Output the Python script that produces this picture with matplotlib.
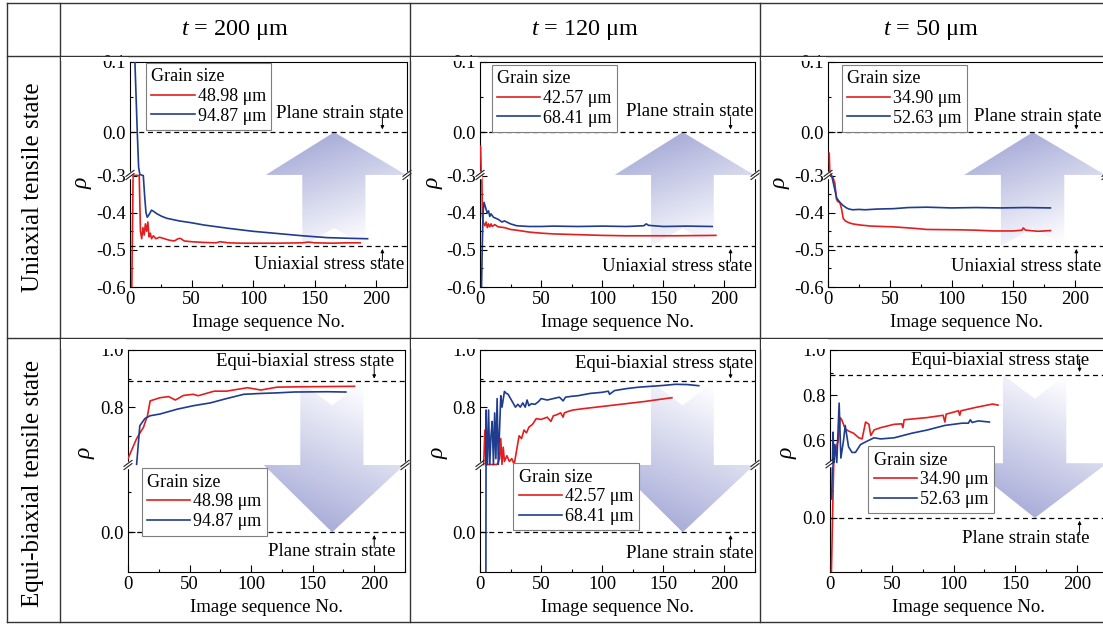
import numpy as np
import matplotlib
matplotlib.use('Agg')
import matplotlib.pyplot as plt
from matplotlib.patches import Polygon, Rectangle
from matplotlib.lines import Line2D

plt.rcParams['font.family'] = ['Liberation Serif', 'DejaVu Serif']
plt.rcParams['mathtext.fontset'] = 'custom'
plt.rcParams['mathtext.it'] = 'Liberation Serif:italic'
plt.rcParams['mathtext.rm'] = 'Liberation Serif'
plt.rcParams['axes.unicode_minus'] = False

# table headers
thickness = ['200', '120', '50']
row_titles = ['Uniaxial tensile state', 'Equi-biaxial tensile state']
fine_labels = ['48.98 μm', '42.57 μm', '34.90 μm']
coarse_labels = ['94.87 μm', '68.41 μm', '52.63 μm']

# ---- uniaxial tension (rho vs image number) ----
u200_fine_x = [1.3, 2, 2.5, 3, 6, 7.5, 8.5, 9.5, 10.5, 11.5, 12.5, 13.5, 14.5, 15.5, 16.5, 17.5, 19, 21, 24, 28,
               32, 36, 39, 41, 44, 50, 60, 70, 73, 80, 90, 100, 120, 140, 145, 150, 165, 175, 187]
u200_fine_y = [-0.65, -0.45, -0.3, -0.25, -0.25, -0.3, -0.45, -0.47, -0.44, -0.46, -0.43, -0.45, -0.425, -0.465,
               -0.455, -0.47, -0.462, -0.47, -0.466, -0.47, -0.474, -0.476, -0.47, -0.469, -0.476, -0.478, -0.48,
               -0.481, -0.478, -0.481, -0.482, -0.482, -0.482, -0.481, -0.479, -0.481, -0.482, -0.481, -0.481]
u200_coarse_x = [3, 4, 5.9, 7, 8, 10.8, 12, 13, 14, 15.5, 17.5, 19, 22, 26, 30, 40, 50, 60, 80, 100, 120, 140,
                 160, 180, 193]
u200_coarse_y = [0.25, 0.1, 0.0, -0.05, -0.1, -0.3, -0.36, -0.4, -0.412, -0.405, -0.393, -0.396, -0.403, -0.41,
                 -0.415, -0.422, -0.427, -0.433, -0.442, -0.45, -0.456, -0.462, -0.467, -0.469, -0.47]

u120_fine_x = [0.5, 1, 1.5, 2, 2.7, 4, 5, 6, 7, 8, 9, 10, 12, 15, 20, 25, 30, 40, 50, 60, 80, 100, 120, 140, 160, 193]
u120_fine_y = [-0.02, -0.1, -0.3, -0.41, -0.427, -0.435, -0.425, -0.44, -0.43, -0.438, -0.43, -0.437, -0.432,
               -0.438, -0.44, -0.445, -0.447, -0.452, -0.455, -0.457, -0.459, -0.461, -0.462, -0.462, -0.462, -0.461]
u120_coarse_x = [1, 1.8, 2.5, 3.3, 4.5, 5.8, 7, 8, 9, 11, 13, 15, 18, 20, 25, 30, 40, 50, 60, 80, 100, 120, 134,
                 136, 138, 150, 170, 190]
u120_coarse_y = [-0.65, -0.5, -0.4, -0.372, -0.385, -0.4, -0.395, -0.41, -0.403, -0.412, -0.415, -0.418, -0.425,
                 -0.422, -0.43, -0.435, -0.437, -0.437, -0.436, -0.437, -0.436, -0.437, -0.435, -0.43, -0.434,
                 -0.437, -0.436, -0.437]

u50_fine_x = [1, 1.5, 2.5, 4, 5.5, 6.9, 8, 9.6, 11, 12.3, 14, 17, 20, 26, 35, 53, 70, 80, 107, 120, 134, 150, 157,
              158, 160, 170, 180]
u50_fine_y = [-0.03, -0.1, -0.28, -0.305, -0.32, -0.364, -0.37, -0.372, -0.39, -0.415, -0.422, -0.427, -0.43,
              -0.433, -0.436, -0.438, -0.442, -0.445, -0.446, -0.447, -0.449, -0.449, -0.447, -0.441, -0.447,
              -0.45, -0.448]
u50_coarse_x = [2, 3, 5, 7, 9.6, 12, 15, 17, 20, 25, 30, 40, 53, 65, 80, 100, 120, 140, 160, 180]
u50_coarse_y = [-0.2, -0.3, -0.33, -0.36, -0.372, -0.38, -0.387, -0.39, -0.392, -0.391, -0.392, -0.39, -0.389,
                -0.386, -0.385, -0.387, -0.386, -0.387, -0.386, -0.387]

# ---- equi-biaxial tension ----
e200_fine_x = [0, 7, 12.6, 15.8, 18, 26, 33, 38.5, 45, 53, 57, 70, 80, 97, 108, 121, 135, 160, 184]
e200_fine_y = [0.62, 0.69, 0.73, 0.77, 0.822, 0.833, 0.837, 0.825, 0.841, 0.845, 0.84, 0.856, 0.856, 0.868, 0.86,
               0.87, 0.871, 0.872, 0.873]
e200_coarse_x = [7, 9.6, 13.7, 18, 26, 40, 53, 67, 80, 94, 108, 121, 135, 162, 177]
e200_coarse_y = [0.6, 0.735, 0.76, 0.77, 0.776, 0.793, 0.805, 0.815, 0.83, 0.845, 0.848, 0.85, 0.853, 0.854, 0.853]

e120_fine_x = [3, 4, 5, 6, 8, 10, 12, 14, 16, 17, 18, 19, 20, 22, 24, 26, 28, 30, 32, 34, 36, 38, 40, 43, 46, 50,
               55, 58, 60, 62, 66, 68, 69, 72, 76, 85, 95, 105, 115, 125, 135, 145, 157]
e120_fine_y = [0.55, 0.72, 0.58, 0.55, 0.58, 0.55, 0.56, 0.58, 0.62, 0.69, 0.6, 0.66, 0.61, 0.63, 0.61, 0.62, 0.6,
               0.65, 0.7, 0.69, 0.72, 0.71, 0.73, 0.74, 0.76, 0.757, 0.765, 0.75, 0.77, 0.772, 0.78, 0.765, 0.78,
               0.785, 0.79, 0.795, 0.8, 0.805, 0.81, 0.815, 0.82, 0.826, 0.833]
e120_coarse_x = [4.8, 5, 5.5, 6, 7, 8, 9, 10, 11, 12, 13, 14, 15, 16, 17, 18, 20, 21, 23, 25, 27, 29, 31, 33, 35,
                 37, 38.5, 40, 42, 45, 48, 50, 55, 60, 65, 68, 70, 75, 80, 90, 100, 105, 106, 110, 120, 130, 140,
                 150, 160, 170, 179]
e120_coarse_y = [-0.3, 0.79, 0.55, 0.6, 0.79, 0.55, 0.7, 0.75, 0.55, 0.78, 0.62, 0.83, 0.58, 0.72, 0.84, 0.8,
                 0.855, 0.85, 0.845, 0.83, 0.815, 0.8, 0.81, 0.8, 0.815, 0.8, 0.825, 0.805, 0.812, 0.81, 0.82, 0.83,
                 0.825, 0.83, 0.835, 0.822, 0.835, 0.838, 0.84, 0.848, 0.852, 0.856, 0.845, 0.858, 0.865, 0.87,
                 0.873, 0.876, 0.88, 0.879, 0.875]

e50_fine_x = [0.7, 2.1, 3, 4, 6.8, 8.2, 9.5, 12.3, 15, 19.2, 23.3, 26, 28.8, 31.5, 33, 35.7, 41, 52, 58, 59, 60,
              79, 91.5, 93, 94, 104, 105, 106, 118, 131.7, 136]
e50_fine_y = [-0.3, 0.01, 0.3, 0.545, 0.6, 0.7, 0.69, 0.65, 0.64, 0.63, 0.61, 0.605, 0.68, 0.67, 0.62, 0.645,
              0.655, 0.67, 0.672, 0.655, 0.69, 0.7, 0.71, 0.68, 0.715, 0.73, 0.71, 0.73, 0.745, 0.76, 0.755]
e50_coarse_x = [1.3, 2, 2.5, 3, 4, 5.5, 7.4, 8.8, 11, 12.3, 15, 17.8, 20.6, 24.7, 30, 35.7, 41, 52, 66, 79, 93,
                107, 112, 113.6, 115, 120, 129]
e50_coarse_y = [0.07, 0.35, 0.635, 0.45, 0.58, 0.5, 0.764, 0.52, 0.6, 0.665, 0.57, 0.545, 0.545, 0.58, 0.595,
                0.61, 0.605, 0.61, 0.63, 0.645, 0.665, 0.675, 0.675, 0.69, 0.678, 0.685, 0.68]

uni_series = [(u200_fine_x, u200_fine_y, u200_coarse_x, u200_coarse_y),
              (u120_fine_x, u120_fine_y, u120_coarse_x, u120_coarse_y),
              (u50_fine_x, u50_fine_y, u50_coarse_x, u50_coarse_y)]
equi_series = [(e200_fine_x, e200_fine_y, e200_coarse_x, e200_coarse_y),
               (e120_fine_x, e120_fine_y, e120_coarse_x, e120_coarse_y),
               (e50_fine_x, e50_fine_y, e50_coarse_x, e50_coarse_y)]

PLANE = 0.0
UNIAXIAL = -0.49
EQUIBI = 0.89

RED = '#e41e1e'
BLUE = '#1f3c8f'

W, H = 1103, 625
fig = plt.figure(figsize=(W / 100, H / 100), dpi=100)


def fx(px):
    return px / W


def fy(py):
    return 1 - py / H


def piecewise(yp, fp):
    yp = np.asarray(yp, float)
    fp = np.asarray(fp, float)

    def conv(v, a, b):
        v = np.asarray(v, float)
        shp = v.shape
        flat = v.ravel()
        out = np.interp(flat, a, b)
        s0 = (b[1] - b[0]) / (a[1] - a[0])
        s1 = (b[-1] - b[-2]) / (a[-1] - a[-2])
        out = np.where(flat < a[0], b[0] + (flat - a[0]) * s0, out)
        out = np.where(flat > a[-1], b[-1] + (flat - a[-1]) * s1, out)
        return out.reshape(shp)

    return (lambda v: conv(v, yp, fp)), (lambda v: conv(v, fp, yp))


def grad_arrow(ax, pts, down):
    poly = Polygon(pts, closed=True, transform=ax.transAxes, fc='none', ec='none')
    ax.add_patch(poly)
    xs = [p[0] for p in pts]
    ys = [p[1] for p in pts]
    gx, gy = np.meshgrid(np.linspace(0, 1, 120), np.linspace(0, 1, 120))
    if down:
        t = 0.8 * gy + 0.35 * gx
    else:
        t = 0.8 * (1 - gy) + 0.35 * gx
    t = np.clip(t, 0, 1)
    dark = np.array([0.60, 0.62, 0.82])
    light = np.array([0.99, 0.99, 1.0])
    rgb = dark + (light - dark) * t[..., None]
    im = ax.imshow(rgb, extent=(min(xs), max(xs), min(ys), max(ys)), transform=ax.transAxes,
                   origin='lower', aspect='auto', interpolation='bilinear', zorder=1)
    im.set_clip_path(poly)


def break_marks(ax, fb, wpx, hpx):
    dx, dy, g = 4 / wpx, 3 / hpx, 1.6 / hpx
    for x in (0, 1):
        ax.add_line(Line2D([x, x], [fb - g, fb + g], transform=ax.transAxes, color='white',
                           lw=2.5, clip_on=False, zorder=6))
        for s in (-g, g):
            ax.add_line(Line2D([x - dx, x + dx], [fb + s - dy, fb + s + dy], transform=ax.transAxes,
                               color='#222222', lw=0.8, clip_on=False, zorder=7))


def small_arrow(ax, x, y, up):
    off = -11 if up else 11
    ax.annotate('', xy=(x, y), xytext=(0, off), textcoords='offset points',
                arrowprops=dict(arrowstyle='-|>', lw=0.7, color='black', mutation_scale=5,
                                shrinkA=0, shrinkB=2), zorder=6)


# panel geometry in pixels
rows = [dict(top=62, bottom=287, cell_top=56,
             lefts=[130, 480, 828], widths=[277, 275, 278]),
        dict(top=350, bottom=572, cell_top=338,
             lefts=[128, 480, 830], widths=[277, 275, 278])]
col_lefts = [60, 410, 760]

# y-axis breaks per panel: (lower range, upper range, break fraction)
uni_axis = dict(lo=(-0.6, -0.3), hi=(-0.06, 0.1), fb=0.498,
                major=[-0.6, -0.5, -0.4, -0.3, 0.0, 0.1], minor=[-0.55, -0.45, -0.35, 0.05])
equi_axis = [dict(lo=(-0.2, 0.335), hi=(0.6, 1.0), fb=0.482, major=[0.0, 0.8, 1.0], minor=[0.2, 0.7, 0.9]),
             dict(lo=(-0.2, 0.335), hi=(0.6, 1.0), fb=0.482, major=[0.0, 0.8, 1.0], minor=[0.2, 0.7, 0.9]),
             dict(lo=(-0.2, 0.2), hi=(0.5, 1.0), fb=0.49, major=[0.0, 0.6, 0.8, 1.0], minor=[0.1, 0.7, 0.9])]

legend_anchor = [[(0.058, 0.996), (0.042, 0.987), (0.049, 0.987)],
                 [(0.049, 0.467), (0.121, 0.49), (0.138, 0.567)]]
top_text_pos = [[(0.758, 0.773), (0.764, 0.782), (0.756, 0.757)],
                [(0.639, 0.947), (0.668, 0.94), (0.61, 0.951)]]
bot_text_pos = [[(0.718, 0.098), (0.716, 0.09), (0.712, 0.093)],
                [(0.736, 0.091), (0.764, 0.085), (0.703, 0.15)]]
marker_x = [[205, 205, 201], [200, 205, 202]]

for r in range(2):
    geo = rows[r]
    hpx = geo['bottom'] - geo['top']
    for c in range(3):
        left, wpx = geo['lefts'][c], geo['widths'][c]
        ax = fig.add_axes([fx(left), fy(geo['bottom']), wpx / W, hpx / H])
        cfg = uni_axis if r == 0 else equi_axis[c]
        fb = cfg['fb']
        gap = 0.006
        fwd, inv = piecewise([cfg['lo'][0], cfg['lo'][1], cfg['hi'][0], cfg['hi'][1]],
                             [0, fb - gap / 2, fb + gap / 2, 1])
        ax.set_yscale('function', functions=(fwd, inv))

        # gradient arrow
        xa = dict(tip=0.737, hl=0.49, hr=0.997, sl=0.622, sr=0.85)
        if r == 0:
            ytip = float(fwd(PLANE))
            ybot = float(fwd(UNIAXIAL))
            notch = ybot + 18 / hpx
            pts = [(xa['tip'], ytip), (xa['hr'], fb), (xa['sr'], fb), (xa['sr'], ybot),
                   (xa['tip'], notch), (xa['sl'], ybot), (xa['sl'], fb), (xa['hl'], fb)]
            grad_arrow(ax, pts, down=False)
        else:
            ytip = float(fwd(PLANE))
            ytop = float(fwd(EQUIBI))
            notch = ytop - 24 / hpx
            pts = [(xa['tip'], ytip), (xa['hr'], fb), (xa['sr'], fb), (xa['sr'], ytop),
                   (xa['tip'], notch), (xa['sl'], ytop), (xa['sl'], fb), (xa['hl'], fb)]
            grad_arrow(ax, pts, down=True)

        data = uni_series[c] if r == 0 else equi_series[c]
        ax.plot(data[0], data[1], color=RED, lw=1.2, label=fine_labels[c], zorder=3)
        ax.plot(data[2], data[3], color=BLUE, lw=1.2, label=coarse_labels[c], zorder=3)

        if r == 0:
            ax.axhline(PLANE, color='black', lw=0.9, ls=(0, (4, 3)), zorder=4)
            ax.axhline(UNIAXIAL, color='black', lw=0.9, ls=(0, (4, 3)), zorder=4)
            t1, t2 = 'Plane strain state', 'Uniaxial stress state'
            small_arrow(ax, marker_x[r][c], PLANE, up=False)
            small_arrow(ax, marker_x[r][c], UNIAXIAL, up=True)
        else:
            ax.axhline(EQUIBI, color='black', lw=0.9, ls=(0, (4, 3)), zorder=4)
            ax.axhline(PLANE, color='black', lw=0.9, ls=(0, (4, 3)), zorder=4)
            t1, t2 = 'Equi-biaxial stress state', 'Plane strain state'
            small_arrow(ax, marker_x[r][c], EQUIBI, up=False)
            small_arrow(ax, marker_x[r][c], PLANE, up=True)
        ax.text(*top_text_pos[r][c], t1, transform=ax.transAxes, ha='center', va='center', fontsize=13.5, zorder=6)
        ax.text(*bot_text_pos[r][c], t2, transform=ax.transAxes, ha='center', va='center', fontsize=13.5, zorder=6)

        leg = ax.legend(title='Grain size', loc='upper left', bbox_to_anchor=legend_anchor[r][c],
                        frameon=True, fancybox=False, edgecolor='#7f7f7f', framealpha=1,
                        fontsize=13, title_fontsize=13, alignment='left', handlelength=2.4,
                        handletextpad=0.15, labelspacing=0.15, borderpad=0.3, borderaxespad=0)
        leg.get_frame().set_linewidth(0.8)

        ax.set_xlim(0, 225)
        ax.set_ylim(cfg['lo'][0], cfg['hi'][1])
        ax.set_xticks([0, 50, 100, 150, 200])
        ax.set_xticks([25, 75, 125, 175, 225], minor=True)
        ax.set_yticks(cfg['major'], labels=['%.1f' % v for v in cfg['major']])
        ax.set_yticks(cfg['minor'], minor=True)
        ax.tick_params(which='both', direction='in', labelsize=13.5, pad=3, width=0.8)
        ax.tick_params(which='major', length=5)
        ax.tick_params(which='minor', length=2.5)
        for sp in ax.spines.values():
            sp.set_linewidth(0.8)
        ax.set_xlabel('Image sequence No.', fontsize=13.5, labelpad=4)
        ax.set_ylabel('ρ', fontsize=17, style='italic')
        if r == 0:
            ax.yaxis.set_label_coords(-0.134, 0.462)
        else:
            ax.yaxis.set_label_coords(-0.116, 0.536)
        break_marks(ax, fb, wpx, hpx)

        # the graph image is cropped just above the frame
        fig.patches.append(Rectangle((fx(col_lefts[c] + 1), fy(geo['top'] - 1)),
                                     (left - col_lefts[c] - 3) / W, (geo['top'] - geo['cell_top'] - 2) / H,
                                     transform=fig.transFigure, fc='white', ec='none', zorder=5))

# table grid
grid_color = '#333333'
for y in [3, 56, 338, 622]:
    fig.add_artist(Line2D([fx(7), 1], [fy(y), fy(y)], color=grid_color, lw=1.0))
for x in [7, 60, 410, 760]:
    fig.add_artist(Line2D([fx(x), fx(x)], [fy(3), fy(622)], color=grid_color, lw=1.0))

for c, t in enumerate(thickness):
    cx = [235, 585, 931][c]
    fig.text(fx(cx), fy(30), r'$t$ = ' + t + ' μm', ha='center', va='center', fontsize=17.5)

fig.text(fx(33), fy(187), row_titles[0], rotation=90, ha='center', va='center', fontsize=18)
fig.text(fx(33), fy(483), row_titles[1], rotation=90, ha='center', va='center', fontsize=18)

fig.savefig('out.png', dpi=100, facecolor='white')
